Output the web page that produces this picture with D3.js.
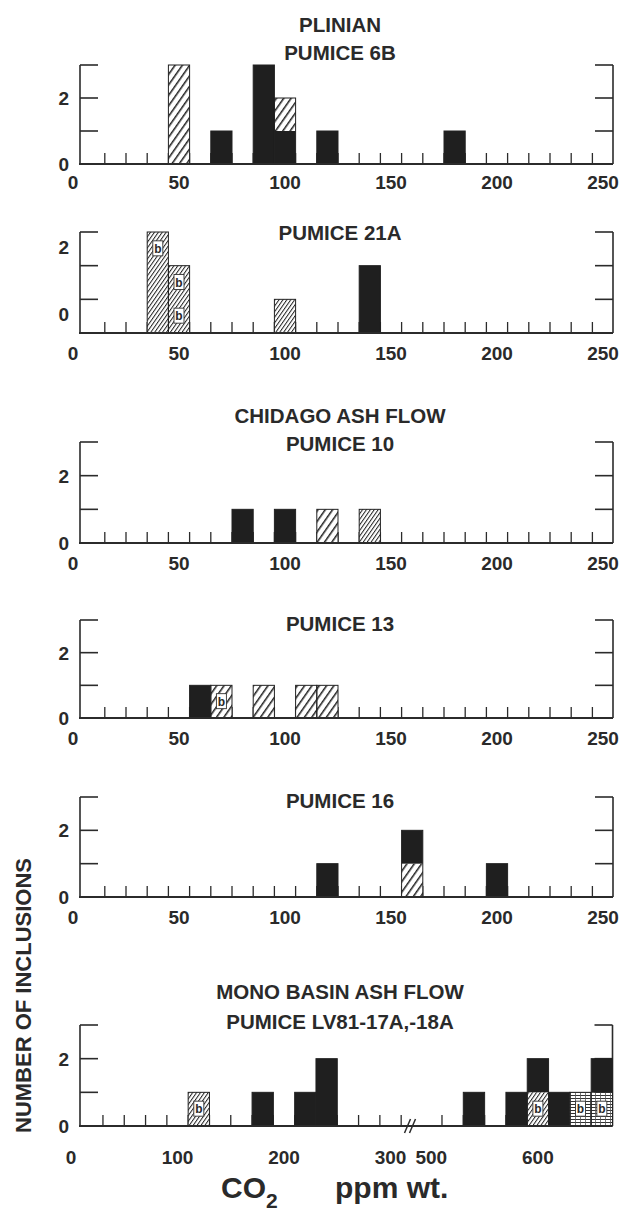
<!DOCTYPE html>
<html>
<head>
<meta charset="utf-8">
<script src="https://cdn.jsdelivr.net/npm/d3@7"></script>
<style>
  body { margin: 0; background: #fff; }
  text { font-family: "Liberation Sans", Arial, sans-serif; font-weight: bold; fill: #2a2a2a; }
</style>
</head>
<body>
<div id="chart"></div>
<script>
// bins are centred on these CO2 values (ppm); stacks list segments bottom->top
// S = solid, H = wide hatch, F = fine hatch, G = lined, trailing b = with "b" box
const bins6B = [50, 70, 90, 100, 120, 180];
const stack6B = [["H","H","H"], ["S"], ["S","S","S"], ["S","H"], ["S"], ["S"]];

const bins21A = [40, 50, 100, 140];
const stack21A = [["F","F","Fb"], ["Fb","Fb"], ["F"], ["S","S"]];

const bins10 = [80, 100, 120, 140];
const stack10 = [["S"], ["S"], ["H"], ["F"]];

const bins13 = [60, 70, 90, 110, 120];
const stack13 = [["S"], ["Hb"], ["H"], ["H"], ["H"]];

const bins16 = [120, 160, 200];
const stack16 = [["S"], ["H","S"], ["S"]];

const binsMono = [120, 180, 220, 240, 540, 580, 600, 620, 640, 660];
const stackMono = [["Fb"], ["S"], ["S"], ["S","S"], ["S"], ["S"], ["Fb","S"], ["S"], ["Gb"], ["Gb","S"]];

const xTicks = [0, 50, 100, 150, 200, 250];
const xTicksMono = [0, 100, 200, 300, 500, 600];
const yTickLabels = [0, 2];

const titles = [
  ["PLINIAN", "PUMICE 6B"],
  ["PUMICE 21A"],
  ["CHIDAGO ASH FLOW", "PUMICE 10"],
  ["PUMICE 13"],
  ["PUMICE 16"],
  ["MONO BASIN ASH FLOW", "PUMICE LV81-17A,-18A"]
];

const W = 626, H = 1212;
const svg = d3.select("#chart").append("svg")
  .attr("width", W).attr("height", H);

// patterns
const defs = svg.append("defs");
function hatch(id, size, sw) {
  const p = defs.append("pattern").attr("id", id)
    .attr("patternUnits", "userSpaceOnUse")
    .attr("width", size).attr("height", size)
    .attr("patternTransform", "rotate(35)");
  p.append("rect").attr("width", size).attr("height", size).attr("fill", "#fff");
  p.append("line").attr("x1", 0.5).attr("y1", 0).attr("x2", 0.5).attr("y2", size)
    .attr("stroke", "#222").attr("stroke-width", sw);
}
hatch("hWide", 6, 2.1);
hatch("hFine", 3.2, 1);
const g = defs.append("pattern").attr("id", "grid")
  .attr("patternUnits", "userSpaceOnUse").attr("width", 5).attr("height", 3);
g.append("rect").attr("width", 5).attr("height", 3).attr("fill", "#fff");
g.append("line").attr("x1", 0).attr("y1", 0.5).attr("x2", 5).attr("y2", 0.5).attr("stroke", "#333").attr("stroke-width", 1);
g.append("line").attr("x1", 0.5).attr("y1", 0).attr("x2", 0.5).attr("y2", 3).attr("stroke", "#555").attr("stroke-width", 0.8);

const fills = { S: "#1f1f1f", H: "url(#hWide)", F: "url(#hFine)", G: "url(#grid)" };

// panel layout (top/base of y axis in px, title baselines)
const layout = [
  { top: 65,   base: 164,  titleY: [32, 60],     labDy: 0,   xLabDy: 25 },
  { top: 232,  base: 333,  titleY: [240],        labDy: -19, xLabDy: 27 },
  { top: 442,  base: 543,  titleY: [423, 451],   labDy: 0,   xLabDy: 27 },
  { top: 620,  base: 718,  titleY: [631],        labDy: 0,   xLabDy: 27 },
  { top: 797,  base: 897,  titleY: [808],        labDy: 0,   xLabDy: 27 },
  { top: 1025, base: 1126, titleY: [999, 1029],  labDy: 0,   xLabDy: 38 }
];

const panels = [
  { bins: bins6B, stacks: stack6B },
  { bins: bins21A, stacks: stack21A },
  { bins: bins10, stacks: stack10 },
  { bins: bins13, stacks: stack13 },
  { bins: bins16, stacks: stack16 },
  { bins: binsMono, stacks: stackMono, mono: true }
];

const xL = 80, xR = 613, ink = "#2b2b2b";

panels.forEach((p, i) => {
  const L = layout[i];
  const y = d3.scaleLinear().domain([0, 3]).range([L.base, L.top]);
  let x, binW, edges, labels;
  if (p.mono) {
    // broken axis: 0-315 | 495-670
    x = d3.scaleLinear().domain([0, 315, 495, 670]).range([71, 406.5, 426, 612.5]);
    binW = 20;
    edges = d3.range(30, 320, 20).concat(d3.range(510, 670, 20));
    labels = xTicksMono;
  } else {
    x = d3.scaleLinear().domain([0, 250]).range([73, 603]);
    binW = 10;
    edges = d3.range(15, 250, 10);
    labels = xTicks;
  }
  const xr = p.mono ? 612.5 : xR;
  const pg = svg.append("g");

  // titles
  titles[i].forEach((t, k) => {
    pg.append("text").attr("x", 340).attr("y", L.titleY[k])
      .attr("text-anchor", "middle").attr("font-size", 20.5).text(t);
  });

  // minor ticks at bin edges
  pg.selectAll(".mt").data(edges).join("line")
    .attr("x1", d => x(d)).attr("x2", d => x(d))
    .attr("y1", L.base).attr("y2", L.base - 11)
    .attr("stroke", ink).attr("stroke-width", 1.3);

  // left and right brackets
  [[xL, 1], [xr, -1]].forEach(([xx, dir]) => {
    pg.append("line").attr("x1", xx).attr("x2", xx).attr("y1", y(3)).attr("y2", L.base)
      .attr("stroke", ink).attr("stroke-width", 1.6);
    pg.selectAll(null).data([1, 2, 3]).join("line")
      .attr("x1", xx).attr("x2", xx + dir * 18)
      .attr("y1", d => y(d)).attr("y2", d => y(d))
      .attr("stroke", ink).attr("stroke-width", 1.6);
  });

  // bars: runs of the same fill merged, then one outline per bin
  const runs = [], segs = [];
  p.bins.forEach((b, j) => {
    p.stacks[j].forEach((code, k) => {
      segs.push({ b, k, code });
      const last = runs[runs.length - 1];
      if (last && last.b === b && last.f === code[0]) last.k1 = k + 1;
      else runs.push({ b, f: code[0], k0: k, k1: k + 1 });
    });
  });
  const x0 = d => x(d.b - binW / 2), x1 = d => x(d.b + binW / 2);
  pg.selectAll(".run").data(runs).join("rect")
    .attr("x", x0).attr("width", d => x1(d) - x0(d))
    .attr("y", d => y(d.k1)).attr("height", d => y(d.k0) - y(d.k1))
    .attr("fill", d => fills[d.f]);
  pg.selectAll(".outl").data(p.bins.map((b, j) => ({ b, n: p.stacks[j].length }))).join("rect")
    .attr("x", x0).attr("width", d => x1(d) - x0(d))
    .attr("y", d => y(d.n)).attr("height", d => y(0) - y(d.n))
    .attr("fill", "none").attr("stroke", "#222").attr("stroke-width", 1);

  // "b" boxes
  const bsegs = segs.filter(d => d.code.endsWith("b"));
  pg.selectAll(".bb").data(bsegs).join("rect")
    .attr("x", d => (x0(d) + x1(d)) / 2 - 5).attr("width", 10)
    .attr("y", d => (y(d.k) + y(d.k + 1)) / 2 - 8).attr("height", 15)
    .attr("fill", "#fff").attr("stroke", "#333").attr("stroke-width", 0.9);
  pg.selectAll(".bt").data(bsegs).join("text")
    .attr("x", d => (x0(d) + x1(d)) / 2).attr("y", d => (y(d.k) + y(d.k + 1)) / 2 + 4)
    .attr("text-anchor", "middle").attr("font-size", 12).attr("font-weight", "normal").text("b");

  // baseline
  pg.append("line").attr("x1", xL - 1).attr("x2", xr).attr("y1", L.base).attr("y2", L.base)
    .attr("stroke", ink).attr("stroke-width", 1.8);

  if (p.mono) {
    // axis break mark
    const bx = x(315) + 1;
    [0, 5].forEach(o => {
      pg.append("line").attr("x1", bx + o - 3).attr("x2", bx + o + 3)
        .attr("y1", L.base + 7).attr("y2", L.base - 7)
        .attr("stroke", ink).attr("stroke-width", 1.5);
    });
  }

  // y labels
  pg.selectAll(".yl").data(yTickLabels).join("text")
    .attr("x", 69).attr("y", d => y(d) + L.labDy + 7)
    .attr("text-anchor", "end").attr("font-size", 19).text(d => d);

  // x labels
  pg.selectAll(".xl").data(labels).join("text")
    .attr("x", d => x(d)).attr("y", L.base + L.xLabDy)
    .attr("text-anchor", "middle").attr("font-size", 19).text(d => d);
});

// axis titles
svg.append("text")
  .attr("transform", "translate(31,1133) rotate(-90)")
  .attr("font-size", 22).text("NUMBER OF INCLUSIONS");

const xt = svg.append("text").attr("x", 221).attr("y", 1198).attr("font-size", 30);
xt.append("tspan").text("CO");
xt.append("tspan").attr("font-size", 21).attr("dy", 10).text("2");
xt.append("tspan").attr("x", 335).attr("dy", -10).text("ppm wt.");
</script>
</body>
</html>
